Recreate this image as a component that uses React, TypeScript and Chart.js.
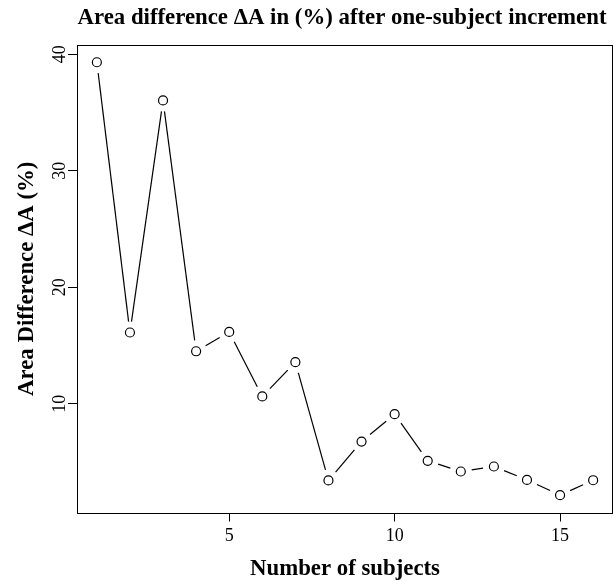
import React, { useEffect, useRef } from "react";
import { Chart, registerables } from "chart.js";

Chart.register(...registerables);

const SUBJECTS = [1, 2, 3, 4, 5, 6, 7, 8, 9, 10, 11, 12, 13, 14, 15, 16];
const AREA_DIFF = [39.31, 16.11, 36.03, 14.5, 16.16, 10.62, 13.56, 3.41, 6.75, 9.1, 5.1, 4.18, 4.61, 3.46, 2.15, 3.43];
const X_TICKS = [5, 10, 15];
const Y_TICKS = [10, 20, 30, 40];
const X_MIN = 0.4;
const X_MAX = 16.6;
const Y_MIN = 0.66;
const Y_MAX = 40.79;
const TITLE = "Area difference \u0394A in (%) after one-subject increment";
const X_LABEL = "Number of subjects";
const Y_LABEL = "Area Difference \u0394A (%)";

const SERIF = "'Liberation Serif', 'Times New Roman', serif";

const rStylePlugin = {
  id: "rStyle",
  beforeDatasetsDraw(chart: any) {
    const ctx = chart.ctx;
    const meta = chart.getDatasetMeta(0);
    const pts = meta.data;
    const gap = 11;
    ctx.save();
    ctx.strokeStyle = "#000";
    ctx.lineWidth = 1.2;
    for (let i = 0; i < pts.length - 1; i++) {
      const a = pts[i];
      const b = pts[i + 1];
      const dx = b.x - a.x;
      const dy = b.y - a.y;
      const len = Math.hypot(dx, dy);
      if (len <= 2 * gap) continue;
      const ux = dx / len;
      const uy = dy / len;
      ctx.beginPath();
      ctx.moveTo(a.x + ux * gap, a.y + uy * gap);
      ctx.lineTo(b.x - ux * gap, b.y - uy * gap);
      ctx.stroke();
    }
    ctx.restore();
  },
  afterDraw(chart: any) {
    const ctx = chart.ctx;
    const area = chart.chartArea;
    const yScale = chart.scales.y;
    ctx.save();
    ctx.strokeStyle = "#000";
    ctx.lineWidth = 1;
    ctx.strokeRect(Math.round(area.left) + 0.5, Math.round(area.top) + 0.5, Math.round(area.right - area.left) - 1, Math.round(area.bottom - area.top));
    ctx.fillStyle = "#000";
    ctx.font = `bold 22.8px ${SERIF}`;
    ctx.textAlign = "center";
    ctx.textBaseline = "alphabetic";
    ctx.fillText(TITLE, (area.left + area.right) / 2 - 3, 24);
    ctx.fillText(X_LABEL, (area.left + area.right) / 2, 575);
    ctx.save();
    ctx.translate(33, (area.top + area.bottom) / 2);
    ctx.rotate(-Math.PI / 2);
    ctx.fillText(Y_LABEL, 0, 0);
    ctx.restore();
    ctx.font = `18px ${SERIF}`;
    for (const v of Y_TICKS) {
      const py = yScale.getPixelForValue(v);
      ctx.save();
      ctx.translate(65, py);
      ctx.rotate(-Math.PI / 2);
      ctx.fillText(String(v), 0, 0);
      ctx.restore();
    }
    ctx.restore();
  },
};

export default function App() {
  const ref = useRef<HTMLCanvasElement | null>(null);
  useEffect(() => {
    document.body.style.margin = "0";
    const canvas = ref.current;
    if (!canvas) return;
    const chart = new Chart(canvas, {
      type: "scatter",
      data: {
        datasets: [
          {
            data: SUBJECTS.map((x, i) => ({ x, y: AREA_DIFF[i] })),
            showLine: false,
            pointStyle: "circle",
            pointRadius: 4.5,
            pointBorderWidth: 1.2,
            pointBorderColor: "#000",
            pointBackgroundColor: "#fff",
          },
        ],
      },
      options: {
        responsive: false,
        animation: false,
        devicePixelRatio: 1,
        layout: { padding: { top: 45, left: 0, right: 0, bottom: 0 }, autoPadding: false },
        plugins: {
          legend: { display: false },
          title: { display: false },
          tooltip: { enabled: false },
        },
        scales: {
          x: {
            type: "linear",
            min: X_MIN,
            max: X_MAX,
            afterBuildTicks: (s: any) => {
              s.ticks = X_TICKS.map((v) => ({ value: v }));
            },
            afterFit: (s: any) => {
              s.height = 68.5;
              s.paddingLeft = 0;
              s.paddingRight = 0;
            },
            border: { display: false },
            grid: { drawOnChartArea: false, drawTicks: true, tickLength: 9, color: "#000", lineWidth: 1 },
            ticks: { color: "#000", font: { family: SERIF, size: 18 }, padding: 4, maxRotation: 0 },
          },
          y: {
            type: "linear",
            min: Y_MIN,
            max: Y_MAX,
            afterBuildTicks: (s: any) => {
              s.ticks = Y_TICKS.map((v) => ({ value: v }));
            },
            afterFit: (s: any) => {
              s.width = 77;
              s.paddingTop = 0;
              s.paddingBottom = 0;
            },
            border: { display: false },
            grid: { drawOnChartArea: false, drawTicks: true, tickLength: 9, color: "#000", lineWidth: 1 },
            ticks: { display: false },
          },
        },
      },
      plugins: [rStylePlugin],
    } as any);
    return () => chart.destroy();
  }, []);
  return (
    <div style={{ width: 613, height: 581, background: "#fff" }}>
      <canvas ref={ref} width={613} height={581} style={{ width: 613, height: 581, display: "block" }} />
    </div>
  );
}
